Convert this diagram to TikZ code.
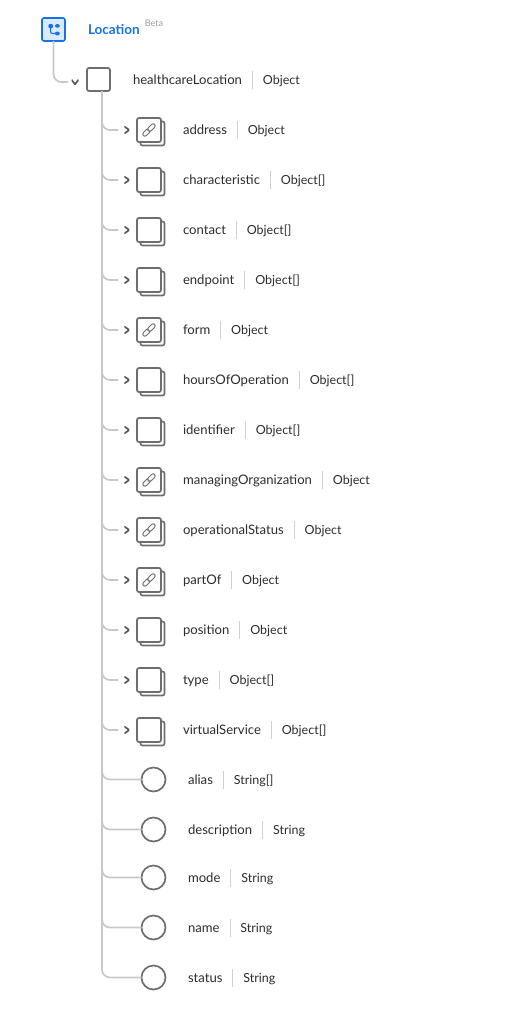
\documentclass[tikz,border=0pt]{standalone}
\usepackage{fontspec}
\setmainfont{Lato}
\usetikzlibrary{positioning, shadows}
\definecolor{lcblue}{HTML}{1473E6}
\definecolor{lcpale}{HTML}{DCEBFC}
\definecolor{lcgrey}{HTML}{6E6E6E}
\definecolor{lcline}{HTML}{C8C8C8}
\definecolor{lcsep}{HTML}{D0D0D0}
\definecolor{lctext}{HTML}{2C2C2C}
\newcommand{\typesep}{\hspace{10pt}{\color{lcsep}\rule[-5pt]{.9pt}{18pt}}\hspace{10pt}\fontsize{12.5}{14}\selectfont}
\tikzset{
  rootbox/.style={
    draw=lcblue, fill=lcpale, line width=1.6pt, rounded corners=2pt, minimum size=23pt,
    inner sep=0pt, outer sep=0pt,
    path picture={
      \fill[lcblue] ([shift={(-5.2pt,1.2pt)}]path picture bounding box.center) rectangle ++(4.8pt,4.4pt);
      \fill[lcblue] ([shift={(1.5pt,1.8pt)}]path picture bounding box.center) rectangle ++(4.8pt,3.6pt);
      \fill[lcblue] ([shift={(1.5pt,-5.9pt)}]path picture bounding box.center) rectangle ++(4.8pt,3.8pt);
      \draw[lcblue, line width=1.1pt] ([shift={(-3pt,2pt)}]path picture bounding box.center)
        |- ([shift={(2pt,-4pt)}]path picture bounding box.center);
    }},
  mainbox/.style={
    draw=lcgrey, fill=white, line width=1.7pt, rounded corners=2pt, minimum size=23pt,
    inner sep=0pt, outer sep=0pt},
  objbox/.style={
    mainbox, minimum size=24pt,
    copy shadow={shadow xshift=3.5pt, shadow yshift=-3.5pt, draw=lcgrey, fill=white}},
  linked/.style={
    path picture={
      \coordinate (lc) at (path picture bounding box.center);
      \draw[lcgrey, line width=5pt, line cap=round] ([shift={(-4.2pt,-4.2pt)}]lc) -- ([shift={(-.6pt,-.6pt)}]lc);
      \draw[white, line width=3pt, line cap=round] ([shift={(-4.2pt,-4.2pt)}]lc) -- ([shift={(-.6pt,-.6pt)}]lc);
      \draw[lcgrey, line width=5pt, line cap=round] ([shift={(.6pt,.6pt)}]lc) -- ([shift={(4.2pt,4.2pt)}]lc);
      \draw[white, line width=3pt, line cap=round] ([shift={(.6pt,.6pt)}]lc) -- ([shift={(4.2pt,4.2pt)}]lc);
    }},
  strcircle/.style={
    circle, draw=lcgrey, fill=white, line width=1.7pt, minimum size=24pt,
    inner sep=0pt, outer sep=0pt},
  field/.style={
    font=\fontsize{13.1}{14}\selectfont, text=lctext, inner sep=0pt, outer sep=0pt,
    text height=10pt, text depth=2pt},
  chevright/.style={
    minimum width=5pt, minimum height=7pt, inner sep=0pt, outer ysep=0pt, outer xsep=6pt,
    path picture={
      \draw[lcgrey!80!black, line width=1.7pt] (path picture bounding box.north west)
        -- (path picture bounding box.east) -- (path picture bounding box.south west);
    }},
  chevdown/.style={
    minimum width=7pt, minimum height=4.5pt, inner sep=0pt, outer ysep=0pt, outer xsep=3.5pt,
    path picture={
      \draw[lcgrey!80!black, line width=1.7pt] (path picture bounding box.north west)
        -- (path picture bounding box.south) -- (path picture bounding box.north east);
    }},
  conn/.style={draw=lcline, line width=1.7pt, rounded corners=8pt},
}
\begin{document}
\begin{tikzpicture}[x=1pt, y=-1pt]
  \useasboundingbox (0,0) rectangle (523,1025);
  % root
  \node[rootbox] (root) at (53.5,29.5) {};
  \node[field, font=\fontsize{13.5}{14}\selectfont\bfseries, text=lcblue, right=23pt of root, yshift=-.8pt] (rootT) {Location};
  \node[font=\fontsize{9}{10}\selectfont, text=lcgrey!70, inner sep=0pt, right=5pt of rootT, yshift=6.8pt] (rootB) {Beta};
  % object
  \node[mainbox] (healthcareLocation) at (98.5,79.5) {};
  \node[field, right=23pt of healthcareLocation, yshift=-.7pt] (healthcareLocationT) {healthcareLocation\typesep Object};
  \node[chevdown] (healthcareLocationC) at (75,82) {};
  \coordinate (trunk) at ([xshift=3.5pt]healthcareLocation.south);
  % object fields
  \node[objbox, linked] (address) at (149,130) {};
  \node[field, right=22pt of address] (addressT) {address\typesep Object};
  \node[chevright, left=1.75pt of address] (addressC) {};
  \node[objbox, below=26pt of address] (characteristic) {};
  \node[field, right=22pt of characteristic] (characteristicT) {characteristic\typesep Object[]};
  \node[chevright, left=1.75pt of characteristic] (characteristicC) {};
  \node[objbox, below=26pt of characteristic] (contact) {};
  \node[field, right=22pt of contact] (contactT) {contact\typesep Object[]};
  \node[chevright, left=1.75pt of contact] (contactC) {};
  \node[objbox, below=26pt of contact] (endpoint) {};
  \node[field, right=22pt of endpoint] (endpointT) {endpoint\typesep Object[]};
  \node[chevright, left=1.75pt of endpoint] (endpointC) {};
  \node[objbox, linked, below=26pt of endpoint] (form) {};
  \node[field, right=22pt of form] (formT) {form\typesep Object};
  \node[chevright, left=1.75pt of form] (formC) {};
  \node[objbox, below=26pt of form] (hours) {};
  \node[field, right=22pt of hours] (hoursT) {hoursOfOperation\typesep Object[]};
  \node[chevright, left=1.75pt of hours] (hoursC) {};
  \node[objbox, below=26pt of hours] (identifier) {};
  \node[field, right=22pt of identifier] (identifierT) {identifier\typesep Object[]};
  \node[chevright, left=1.75pt of identifier] (identifierC) {};
  \node[objbox, linked, below=26pt of identifier] (managing) {};
  \node[field, right=22pt of managing] (managingT) {managingOrganization\typesep Object};
  \node[chevright, left=1.75pt of managing] (managingC) {};
  \node[objbox, linked, below=26pt of managing] (operational) {};
  \node[field, right=22pt of operational] (operationalT) {operationalStatus\typesep Object};
  \node[chevright, left=1.75pt of operational] (operationalC) {};
  \node[objbox, linked, below=26pt of operational] (partOf) {};
  \node[field, right=22pt of partOf] (partOfT) {partOf\typesep Object};
  \node[chevright, left=1.75pt of partOf] (partOfC) {};
  \node[objbox, below=26pt of partOf] (position) {};
  \node[field, right=22pt of position] (positionT) {position\typesep Object};
  \node[chevright, left=1.75pt of position] (positionC) {};
  \node[objbox, below=26pt of position] (type) {};
  \node[field, right=22pt of type] (typeT) {type\typesep Object[]};
  \node[chevright, left=1.75pt of type] (typeC) {};
  \node[objbox, below=26pt of type] (virtual) {};
  \node[field, right=22pt of virtual] (virtualT) {virtualService\typesep Object[]};
  \node[chevright, left=1.75pt of virtual] (virtualC) {};
  % string fields
  \node[strcircle] (alias) at (153.5,779.5) {};
  \node[field, right=22.5pt of alias, yshift=-.7pt] (aliasT) {alias\typesep String[]};
  \node[strcircle, below=26pt of alias] (description) {};
  \node[field, right=22.5pt of description, yshift=-.7pt] (descriptionT) {description\typesep String};
  \node[strcircle, below=24pt of description] (mode) {};
  \node[field, right=22.5pt of mode, yshift=-.7pt] (modeT) {mode\typesep String};
  \node[strcircle, below=26pt of mode] (name) {};
  \node[field, right=22.5pt of name, yshift=-.7pt] (nameT) {name\typesep String};
  \node[strcircle, below=26pt of name] (status) {};
  \node[field, right=22.5pt of status, yshift=-.7pt] (statusT) {status\typesep String};

  \draw[conn] (root.south) |- (healthcareLocationC.west);
  \draw[conn] (trunk) |- (addressC.west);
  \draw[conn] (trunk) |- (characteristicC.west);
  \draw[conn] (trunk) |- (contactC.west);
  \draw[conn] (trunk) |- (endpointC.west);
  \draw[conn] (trunk) |- (formC.west);
  \draw[conn] (trunk) |- (hoursC.west);
  \draw[conn] (trunk) |- (identifierC.west);
  \draw[conn] (trunk) |- (managingC.west);
  \draw[conn] (trunk) |- (operationalC.west);
  \draw[conn] (trunk) |- (partOfC.west);
  \draw[conn] (trunk) |- (positionC.west);
  \draw[conn] (trunk) |- (typeC.west);
  \draw[conn] (trunk) |- (virtualC.west);
  \draw[conn] (trunk) |- (alias.west);
  \draw[conn] (trunk) |- (description.west);
  \draw[conn] (trunk) |- (mode.west);
  \draw[conn] (trunk) |- (name.west);
  \draw[conn] (trunk) |- (status.west);
\end{tikzpicture}
\end{document}
